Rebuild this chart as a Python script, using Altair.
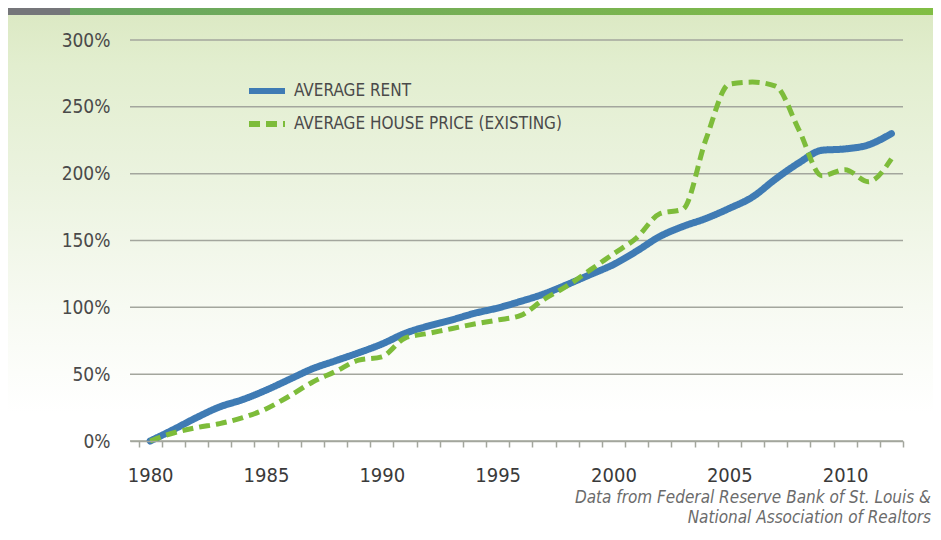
import altair as alt
import pandas as pd

# ---------------- data ----------------
years = list(range(1980, 2013))
rent = [0, 8.5, 17.5, 25.5, 31, 38, 46, 54, 60, 66, 72.5, 80.5, 86, 90.5, 95.5, 99.5,
        104.5, 110, 117, 124.5, 132, 142, 153, 160.5, 166.5, 174, 182.5, 196, 208,
        217.5, 218.5, 221.5, 230]
house = [0, 6, 10, 13, 17.5, 24, 33.5, 44, 52, 60.5, 63, 77, 80.5, 84, 87.5, 90.5,
         94, 106, 116, 128, 140, 152, 170, 173.5, 226, 267, 268.5, 265.5, 233, 198.5,
         203, 194, 211]
series_names = ["AVERAGE RENT", "AVERAGE HOUSE PRICE (EXISTING)"]
series_colors = ["#3f7bb4", "#7dbc3a"]
y_ticks = [0, 50, 100, 150, 200, 250, 300]
source_lines = ["Data from Federal Reserve Bank of St. Louis &",
                "National Association of Realtors"]

df = pd.DataFrame({
    "year": years + years,
    "value": rent + house,
    "series": [series_names[0]] * len(years) + [series_names[1]] * len(years),
})
x_tick_vals = [y - 0.5 for y in years] + [years[-1] + 0.5]

FONT = "Liberation Sans Narrow, DejaVu Sans Condensed, sans-serif"
GRID = "#a3a69d"

W, H = 773, 401
PAD = {"left": 122, "top": 32, "right": 30, "bottom": 85}

xscale = alt.Scale(domain=[1979.13, 2012.5], nice=False, zero=False)
yscale = alt.Scale(domain=[0, 300], nice=False)

y_axis = alt.Axis(
    values=y_ticks, labelExpr="datum.value + '%'", grid=False, domain=False,
    ticks=False, tickSize=0, labelPadding=20, labelFont=FONT, labelFontSize=19,
    labelColor="#4a4a4a", title=None, zindex=1)

one = pd.DataFrame({"k": [0]})

bg_grad = alt.Gradient(
    gradient="linear", x1=0, x2=0, y1=0, y2=1,
    stops=[
        alt.GradientStop(color="#dce9c4", offset=0),
        alt.GradientStop(color="#e2eecf", offset=0.1),
        alt.GradientStop(color="#ebf3df", offset=0.32),
        alt.GradientStop(color="#f7faf2", offset=0.57),
        alt.GradientStop(color="#ffffff", offset=0.78),
        alt.GradientStop(color="#ffffff", offset=1),
    ],
)
bar_grad = alt.Gradient(
    gradient="linear", x1=0, x2=1, y1=0, y2=0,
    stops=[
        alt.GradientStop(color="#68a660", offset=0),
        alt.GradientStop(color="#77b054", offset=0.5),
        alt.GradientStop(color="#81be44", offset=1),
    ],
)

bg = alt.Chart(one).mark_rect(fill=bg_grad).encode(
    x=alt.value(-122), x2=alt.value(803), y=alt.value(-25), y2=alt.value(486)
)
bar_gray = alt.Chart(one).mark_rect(fill="#75767a").encode(
    x=alt.value(-122), x2=alt.value(-60), y=alt.value(-32), y2=alt.value(-25)
)
bar_green = alt.Chart(one).mark_rect(fill=bar_grad).encode(
    x=alt.value(-60), x2=alt.value(803), y=alt.value(-32), y2=alt.value(-25)
)

grid = alt.Chart(pd.DataFrame({"tick": y_ticks})).mark_rule(
    color=GRID, strokeWidth=1.5
).encode(y=alt.Y("tick:Q", scale=yscale, axis=y_axis))

legend = alt.Legend(
    orient="none", legendX=116, legendY=30, symbolType="stroke", symbolSize=1296,
    symbolStrokeWidth=6, labelFont=FONT, labelFontSize=17, labelColor="#4a4a4a",
    labelOffset=6, rowPadding=-4, padding=0, labelLimit=600, title=None,
)

base = alt.Chart(df).encode(
    x=alt.X("year:Q", scale=xscale, axis=alt.Axis(
        values=x_tick_vals,
        labelExpr="(datum.value + 0.5) % 5 == 0 ? toString(datum.value + 0.5) : ''",
        labelOffset=11.6, labelFlush=False, labelOverlap=False, grid=False,
        domainColor=GRID, domainWidth=1.5, tickColor=GRID, tickWidth=1.5, tickSize=6,
        labelPadding=18, labelFont=FONT, labelFontSize=20, labelColor="#3a3a3a",
        title=None, zindex=1)),
    y=alt.Y("value:Q", scale=yscale, axis=y_axis),
    color=alt.Color("series:N", scale=alt.Scale(domain=series_names, range=series_colors),
                    legend=legend, title=None),
    strokeDash=alt.StrokeDash("series:N",
                              scale=alt.Scale(domain=series_names, range=[[1, 0], [11, 6]]),
                              legend=legend, title=None),
)

rent_line = base.transform_filter(alt.datum.series == series_names[0]).mark_line(
    strokeWidth=7, strokeCap="round", interpolate="monotone")
house_line = base.transform_filter(alt.datum.series == series_names[1]).mark_line(
    strokeWidth=5, interpolate="monotone")

source = alt.Chart(one).mark_text(
    align="right", baseline="alphabetic", font=FONT, fontSize=17, fontStyle="italic",
    color="#6b6b6b", lineBreak="\n", lineHeight=20
).encode(x=alt.value(801), y=alt.value(463), text=alt.value("\n".join(source_lines)))

chart = alt.layer(bg, bar_gray, bar_green, grid, rent_line, house_line, source).properties(
    width=W, height=H, padding=PAD, autosize=alt.AutoSizeParams(type="none")
).configure_view(stroke=None)

chart.save("out.html", embed_options={"renderer": "svg", "actions": False})
